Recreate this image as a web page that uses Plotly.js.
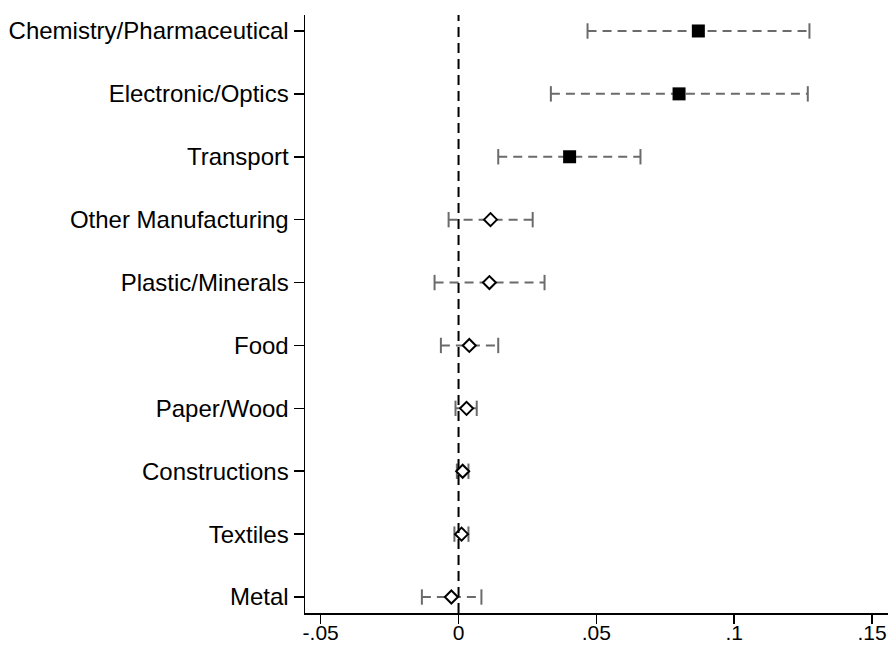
<!DOCTYPE html>
<html><head><meta charset="utf-8">
<script src="https://cdn.plot.ly/plotly-3.0.1.min.js"></script>
<style>html,body{margin:0;padding:0;background:#fff}#c{width:891px;height:646px}</style>
</head><body><div id="c"></div>
<script>
const categories = ["Chemistry/Pharmaceutical","Electronic/Optics","Transport","Other Manufacturing","Plastic/Minerals","Food","Paper/Wood","Constructions","Textiles","Metal"];
const estimates = [0.087, 0.080, 0.0403, 0.0116, 0.0112, 0.0039, 0.0029, 0.0015, 0.0011, -0.0026];
const ciLow = [0.0468, 0.0335, 0.0144, -0.0036, -0.0087, -0.0064, -0.0011, -0.0006, -0.0015, -0.0133];
const ciHigh = [0.1273, 0.1267, 0.066, 0.0269, 0.0312, 0.0144, 0.0066, 0.0036, 0.0036, 0.0083];
const significant = [true, true, true, false, false, false, false, false, false, false];
const xTickVals = [-0.05, 0, 0.05, 0.1, 0.15];
const xTickText = ["-.05", "0", ".05", ".1", ".15"];

const grey = "#6b6b6b";
const lx = [], ly = [];
categories.forEach((c, i) => { lx.push(ciLow[i], ciHigh[i], null); ly.push(c, c, null); });

const traces = [
  {type:"scatter", mode:"lines", x:lx, y:ly, line:{color:grey, width:2, dash:"9px,6px"}, hoverinfo:"skip", showlegend:false},
  {type:"scatter", mode:"markers", x:ciLow.concat(ciHigh), y:categories.concat(categories),
   marker:{symbol:"line-ns", size:11, line:{color:grey, width:2}}, showlegend:false},
  {type:"scatter", mode:"markers",
   x: estimates.filter((v,i)=>significant[i]), y: categories.filter((v,i)=>significant[i]),
   marker:{symbol:"square", size:13, color:"#000", line:{width:0}}, showlegend:false},
  {type:"scatter", mode:"markers",
   x: estimates.filter((v,i)=>!significant[i]), y: categories.filter((v,i)=>!significant[i]),
   marker:{symbol:"diamond", size:10, color:"#fff", line:{color:"#000", width:2}}, showlegend:false}
];

const layout = {
  width:891, height:646,
  margin:{l:305, r:3, t:15, b:33},
  paper_bgcolor:"#fff", plot_bgcolor:"#fff",
  font:{family:"Liberation Sans, Arial, sans-serif", size:24, color:"#000"},
  xaxis:{range:[-0.0557, 0.1558], tickvals:xTickVals, ticktext:xTickText, showgrid:false, zeroline:false,
         showline:true, linecolor:"#000", linewidth:1.5, ticks:"outside", ticklen:9, tickwidth:1.5, tickcolor:"#000",
         tickfont:{size:21}, ticklabelstandoff:-9},
  yaxis:{type:"category", categoryorder:"array", categoryarray:categories, range:[9.254, -0.254],
         showgrid:false, zeroline:false, showline:true, linecolor:"#000", linewidth:1.5,
         ticks:"outside", ticklen:10, tickwidth:1.5, tickcolor:"#000", tickfont:{size:24}},
  shapes:[{type:"line", xref:"x", yref:"paper", x0:0, x1:0, y0:0, y1:1, line:{color:"#000", width:2, dash:"10px,6px"}}]
};
Plotly.newPlot("c", traces, layout, {displayModeBar:false, staticPlot:true});
</script></body></html>
